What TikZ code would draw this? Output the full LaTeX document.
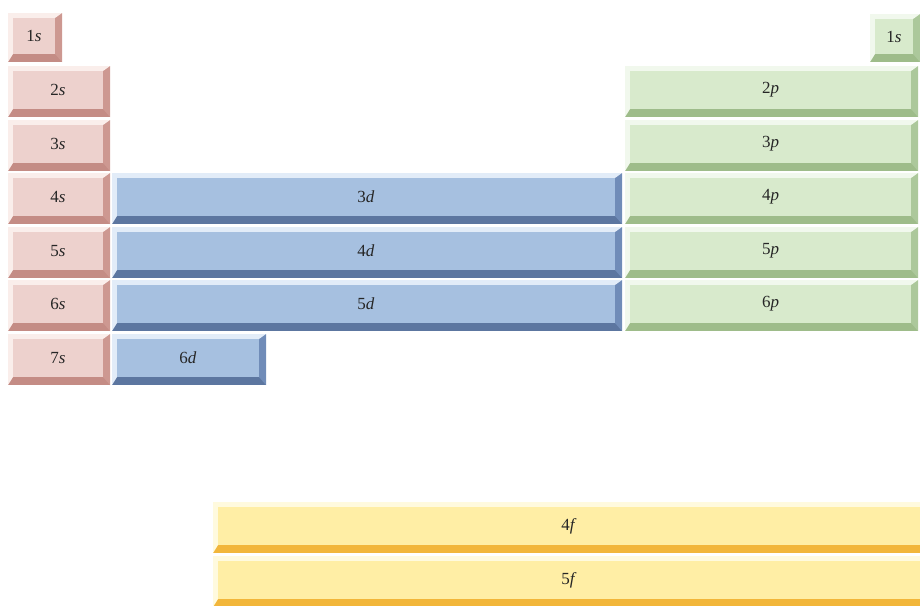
\documentclass[tikz,border=0pt]{standalone}
\usepackage{fontspec}
\setmainfont{Liberation Serif}

\definecolor{sFace} {RGB}{237,209,205}
\definecolor{sLight}{RGB}{250,238,235}
\definecolor{sMid}  {RGB}{205,152,145}
\definecolor{sDark} {RGB}{196,140,133}
\definecolor{dFace} {RGB}{166,192,224}
\definecolor{dLight}{RGB}{226,236,248}
\definecolor{dMid}  {RGB}{112,140,184}
\definecolor{dDark} {RGB}{ 92,118,160}
\definecolor{pFace} {RGB}{216,234,204}
\definecolor{pLight}{RGB}{241,248,237}
\definecolor{pMid}  {RGB}{172,200,155}
\definecolor{pDark} {RGB}{158,188,138}
\definecolor{fFace} {RGB}{255,238,165}
\definecolor{fLight}{RGB}{255,250,222}
\definecolor{fMid}  {RGB}{248,206,110}
\definecolor{fDark} {RGB}{242,182, 58}

% bevelled block: name, x1, y1, x2, y2, colour prefix, label
\newcommand{\orbbox}[7]{%
  \fill[#6Dark] (#2,#3) rectangle (#4,#5);
  \fill[#6Mid] (#4,#3) -- (#4,#5) -- ({#4-7},{#5-8}) -- ({#4-7},{#3+5}) -- cycle;
  \fill[#6Light] (#2,#3) -- (#4,#3) -- ({#4-7},{#3+5}) -- ({#2+5},{#3+5})
        -- ({#2+5},{#5-8}) -- (#2,#5) -- cycle;
  \fill[#6Face] ({#2+5},{#3+5}) rectangle ({#4-7},{#5-8});
  \node[lbl] (#1) at ({(#2+#4-2)/2},{(#3+#5-3)/2}) {#7};
}

\begin{document}
\begin{tikzpicture}[x=1pt, y=-1pt,
    lbl/.style={inner sep=0pt, text=black!85, font=\fontsize{17}{20}\selectfont}]
  \useasboundingbox (0,0) rectangle (920,605);
  % s block
  \orbbox{s1}{8}{13}{62}{62}{s}{1\textit{s}}
  \orbbox{s2}{8}{66}{110}{117}{s}{2\textit{s}}
  \orbbox{s3}{8}{120}{110}{171}{s}{3\textit{s}}
  \orbbox{s4}{8}{173}{110}{224}{s}{4\textit{s}}
  \orbbox{s5}{8}{227}{110}{278}{s}{5\textit{s}}
  \orbbox{s6}{8}{280}{110}{331}{s}{6\textit{s}}
  \orbbox{s7}{8}{334}{110}{385}{s}{7\textit{s}}
  % d block
  \orbbox{d3}{112}{173}{622}{224}{d}{3\textit{d}}
  \orbbox{d4}{112}{227}{622}{278}{d}{4\textit{d}}
  \orbbox{d5}{112}{280}{622}{331}{d}{5\textit{d}}
  \orbbox{d6}{112}{334}{266}{385}{d}{6\textit{d}}
  % p block
  \orbbox{h1}{870}{14}{920}{62}{p}{1\textit{s}}
  \orbbox{p2}{625}{66}{918}{117}{p}{2\textit{p}}
  \orbbox{p3}{625}{120}{918}{171}{p}{3\textit{p}}
  \orbbox{p4}{625}{173}{918}{224}{p}{4\textit{p}}
  \orbbox{p5}{625}{227}{918}{278}{p}{5\textit{p}}
  \orbbox{p6}{625}{280}{918}{331}{p}{6\textit{p}}
  % f block
  \orbbox{f4}{213}{502}{927}{553}{f}{4\textit{f}}
  \orbbox{f5}{213}{556}{927}{607}{f}{5\textit{f}}
\end{tikzpicture}
\end{document}
